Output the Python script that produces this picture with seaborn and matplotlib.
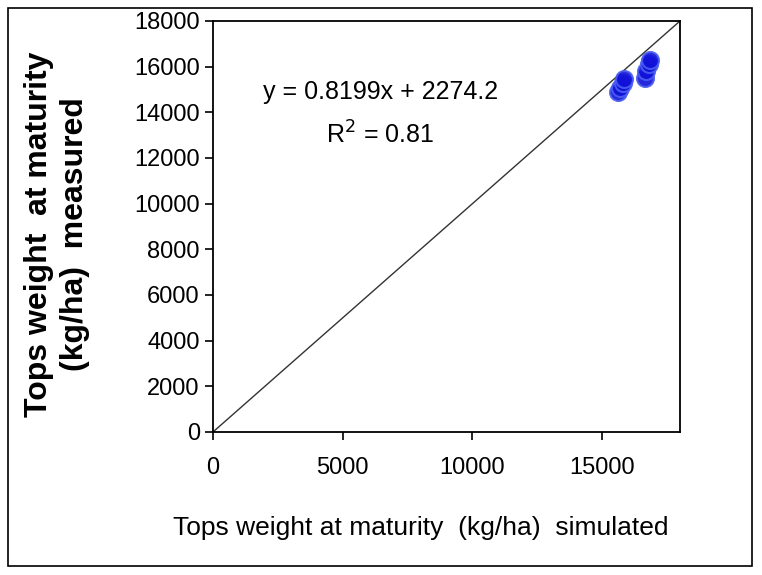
import matplotlib
matplotlib.use("Agg")
import matplotlib.pyplot as plt
import seaborn as sns
import pandas as pd
from matplotlib.patches import Rectangle

simulated = [15600, 15700, 15800, 15850, 16650, 16700, 16800, 16850]
measured = [14900, 15050, 15300, 15450, 15500, 15800, 16100, 16300]
line_x = [0, 18000]
line_y = [0, 18000]
xticks = [0, 5000, 10000, 15000]
yticks = [0, 2000, 4000, 6000, 8000, 10000, 12000, 14000, 16000, 18000]

sns.set_style("white")
plt.rcParams['font.family'] = ['Liberation Sans', 'DejaVu Sans']
plt.rcParams['text.color'] = 'black'

df = pd.DataFrame({"sim": simulated, "meas": measured})

fig = plt.figure(figsize=(7.62, 5.75), dpi=100)
ax = fig.add_axes([0.2795, 0.2487, 0.6129, 0.7148])

sns.lineplot(x=line_x, y=line_y, ax=ax, color="#333333", linewidth=1.0)
sns.scatterplot(data=df, x="sim", y="meas", ax=ax, s=150, color="#1010d8",
                edgecolor="#4a5ef0", linewidth=1.5, alpha=0.9, zorder=3)

ax.set_xlim(0, 18000)
ax.set_ylim(0, 18000)
ax.set_xticks(xticks)
ax.set_yticks(yticks)
ax.tick_params(axis='both', direction='out', length=6, width=1.2, colors='black',
               labelsize=17, bottom=True, left=True)
ax.tick_params(axis='x', pad=12)
for sp in ax.spines.values():
    sp.set_color('black')
    sp.set_linewidth(1.3)

ax.set_xlabel("")
ax.set_ylabel("")
fig.text(421/762, 1 - 528/575, "Tops weight at maturity  (kg/ha)  simulated",
         fontsize=19, ha='center', va='center', color='black')
fig.text(39/762, 1 - 234/575, "Tops weight  at maturity",
         fontsize=23, fontweight='bold', rotation=90, ha='center', va='center', color='black')
fig.text(75/762, 1 - 234/575, "(kg/ha)  measured",
         fontsize=23, fontweight='bold', rotation=90, ha='center', va='center', color='black')

ax.text(6460, 14890, "y = 0.8199x + 2274.2", fontsize=18, ha='center', va='center', color='black')
ax.text(6420, 13000, "R$^2$ = 0.81", fontsize=18, ha='center', va='center', color='black')

fig.patches.append(Rectangle((8/762, 1 - 566/575), (752-8)/762, (566-8)/575,
                             transform=fig.transFigure, fill=False,
                             edgecolor='black', linewidth=1.2))

fig.savefig("out.png", dpi=100)
